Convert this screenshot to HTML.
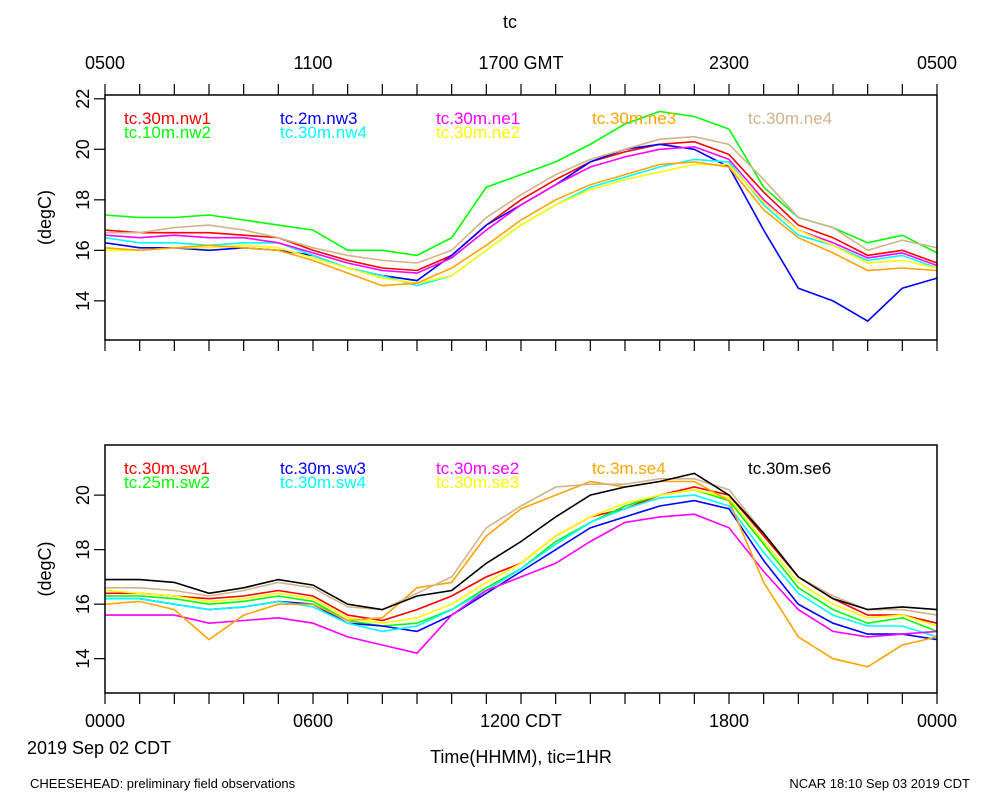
<!DOCTYPE html>
<html><head><meta charset="utf-8"><style>
body{margin:0;background:#fff}
svg text{font-family:"Liberation Sans",sans-serif}
</style></head><body>
<svg id="c" width="1000" height="800" viewBox="0 0 1000 800" xmlns="http://www.w3.org/2000/svg">
<rect width="1000" height="800" fill="#fff"/>
<g id="g"></g>
</svg>
<script>
const hours=[0,1,2,3,4,5,6,7,8,9,10,11,12,13,14,15,16,17,18,19,20,21,22,23,24];
const topNames=["tc.30m.nw1","tc.10m.nw2","tc.2m.nw3","tc.30m.nw4","tc.30m.ne1","tc.30m.ne2","tc.30m.ne3","tc.30m.ne4"];
const topColors=["#ff0000","#00ff00","#0000ff","#00ffff","#ff00ff","#ffff00","#ffa500","#d2b48c"];
const nw1=[16.8,16.7,16.7,16.7,16.6,16.5,16.0,15.6,15.3,15.2,15.8,17.0,18.0,18.8,19.5,19.9,20.2,20.3,19.8,18.3,17.0,16.5,15.8,16.0,15.5];
const nw2=[17.4,17.3,17.3,17.4,17.2,17.0,16.8,16.0,16.0,15.8,16.5,18.5,19.0,19.5,20.2,21.0,21.5,21.3,20.8,18.5,17.3,16.9,16.3,16.6,15.9];
const nw3=[16.3,16.1,16.1,16.0,16.1,16.0,15.8,15.3,15.0,14.8,15.8,17.0,17.8,18.6,19.5,20.0,20.2,20.0,19.3,16.8,14.5,14.0,13.2,14.5,14.9];
const nw4=[16.5,16.3,16.3,16.2,16.3,16.3,15.8,15.3,15.0,14.6,15.0,16.0,17.0,17.8,18.5,18.9,19.3,19.6,19.5,17.8,16.6,16.2,15.6,15.8,15.3];
const ne1=[16.6,16.5,16.6,16.5,16.5,16.3,15.9,15.5,15.2,15.1,15.7,16.8,17.8,18.6,19.3,19.7,20.0,20.1,19.6,18.0,16.8,16.3,15.7,15.9,15.4];
const ne2=[16.0,16.0,16.1,16.1,16.2,16.1,15.7,15.3,14.9,14.7,15.0,16.0,17.0,17.8,18.4,18.8,19.1,19.4,19.4,17.9,16.8,16.2,15.5,15.6,15.3];
const ne3=[16.1,16.0,16.1,16.2,16.1,16.0,15.6,15.1,14.6,14.7,15.3,16.2,17.2,18.0,18.6,19.0,19.4,19.5,19.3,17.6,16.5,15.9,15.2,15.3,15.2];
const ne4=[16.7,16.7,16.9,17.0,16.8,16.5,16.1,15.8,15.6,15.5,16.0,17.3,18.2,19.0,19.6,20.0,20.4,20.5,20.2,18.8,17.3,16.9,16.0,16.4,16.1];
const botNames=["tc.30m.sw1","tc.25m.sw2","tc.30m.sw3","tc.30m.sw4","tc.30m.se2","tc.30m.se3","tc.3m.se4","tc.30m.se5","tc.30m.se6"];
const botColors=["#ff0000","#00ff00","#0000ff","#00ffff","#ff00ff","#ffff00","#ffa500","#d2b48c","#000000"];
const sw1=[16.4,16.4,16.3,16.2,16.3,16.5,16.3,15.6,15.4,15.8,16.3,17.0,17.5,18.5,19.2,19.5,20.0,20.3,20.0,18.5,17.0,16.2,15.6,15.6,15.3];
const sw2=[16.3,16.3,16.2,16.0,16.1,16.3,16.1,15.4,15.2,15.3,15.8,16.6,17.3,18.3,19.0,19.6,20.0,20.2,19.8,18.2,16.6,15.8,15.3,15.5,15.0];
const sw3=[16.2,16.2,16.0,15.8,15.9,16.1,16.0,15.3,15.2,15.0,15.6,16.4,17.2,18.0,18.8,19.2,19.6,19.8,19.5,17.6,16.0,15.3,14.9,14.9,14.7];
const sw4=[16.2,16.2,16.0,15.8,15.9,16.1,15.9,15.3,15.0,15.2,15.8,16.5,17.3,18.2,19.0,19.5,19.9,20.0,19.6,17.9,16.4,15.6,15.2,15.2,14.8];
const se2=[15.6,15.6,15.6,15.3,15.4,15.5,15.3,14.8,14.5,14.2,15.6,16.5,17.0,17.5,18.3,19.0,19.2,19.3,18.8,17.2,15.8,15.0,14.8,14.9,15.0];
const se3=[16.5,16.4,16.3,16.1,16.2,16.4,16.2,15.5,15.3,15.5,16.0,16.8,17.5,18.5,19.2,19.7,20.0,20.2,19.9,18.3,16.8,16.0,15.5,15.6,15.2];
const se4=[16.0,16.1,15.8,14.7,15.6,16.0,16.0,15.4,15.5,16.6,16.8,18.5,19.5,20.0,20.5,20.3,20.5,20.5,19.8,16.8,14.8,14.0,13.7,14.5,14.8];
const se5=[16.6,16.6,16.5,16.3,16.5,16.8,16.6,15.9,15.8,16.4,17.0,18.8,19.6,20.3,20.4,20.4,20.6,20.6,20.2,18.6,17.0,16.3,15.8,15.8,15.6];
const se6=[16.9,16.9,16.8,16.4,16.6,16.9,16.7,16.0,15.8,16.3,16.5,17.5,18.3,19.2,20.0,20.3,20.5,20.8,20.0,18.6,17.0,16.2,15.8,15.9,15.8];
const topSeries=[nw1,nw2,nw3,nw4,ne1,ne2,ne3,ne4];
const botSeries=[sw1,sw2,sw3,sw4,se2,se3,se4,se5,se6];
const yTicks=[14,16,18,20,22];
const topAxisLabels=["0500","1100","1700 GMT","2300","0500"];
const botAxisLabels=["0000","0600","1200 CDT","1800","0000"];

const NS="http://www.w3.org/2000/svg";
const G=document.getElementById('g');
const X0=105,X1=937;
function xs(h){return X0+(X1-X0)*h/24;}
function mk(tag,attrs,parent){const e=document.createElementNS(NS,tag);for(const k in attrs)e.setAttribute(k,attrs[k]);(parent||G).appendChild(e);return e;}
function txt(s,x,y,size,color,anchor,parent){const t=mk('text',{x:x,y:y,'font-size':size,fill:color||'#000','text-anchor':anchor||'start'},parent);t.textContent=s;return t;}

function panel(name,top,bot,vTop,vBot,series,names,colors,legendCount,topAxis){
  const pg=mk('g',{});
  
  
  const ys=v=>top+(vTop-v)/(vTop-vBot)*(bot-top);
  series.forEach((s,i)=>{
    const d=s.map((v,j)=>(j?'L':'M')+xs(hours[j]).toFixed(1)+' '+ys(v).toFixed(1)).join(' ');
    const p=mk('path',{d:d,fill:'none',stroke:colors[i],'stroke-width':1.6},pg);
    
    
  });
  const fr=mk('rect',{x:X0,y:top,width:X1-X0,height:bot-top,fill:'none',stroke:'#000','stroke-width':1.5},pg);
  
  
  for(let h=0;h<=24;h++){
    mk('line',{x1:xs(h),x2:xs(h),y1:bot,y2:bot+11,stroke:'#000','stroke-width':1.2},pg);
    if(topAxis) mk('line',{x1:xs(h),x2:xs(h),y1:top,y2:top-11,stroke:'#000','stroke-width':1.2},pg);
  }
  yTicks.forEach(v=>{
    const y=ys(v); if(y<top-1||y>bot+1) return;
    mk('line',{x1:X0-11,x2:X0,y1:y,y2:y,stroke:'#000','stroke-width':1.2},pg);
    const t=txt(String(v),0,0,18,'#000','middle',pg);
    t.setAttribute('transform','translate(89,'+y+') rotate(-90)');
    
    
  });
  const yl=txt('(degC)',0,0,18,'#000','middle',pg);
  yl.setAttribute('transform','translate(51,'+((top+bot)/2)+') rotate(-90)');
  
  
  for(let i=0;i<legendCount;i++){
    const col=Math.floor(i/2),row=i%2;
    const idx=(i===legendCount-1&&legendCount===9)?8:i;
    let cx=124+156*col, cy=top+29+row*14;
    if(legendCount===9&&i===8){cx=748;cy=top+29;}
    if(legendCount===8&&i===7){cx=748;cy=top+29;}
    if(legendCount===9&&i===7) continue;
    const t=txt(names[idx],cx,cy,17,colors[idx],'start',pg);
    
    
  }
}
panel('top-panel',95,340,22.15,12.45,topSeries,topNames,topColors,8,true);
panel('bottom-panel',445,693,21.84,12.74,botSeries,botNames,botColors,9,false);

const tl=txt('tc',510,28,18,'#000','middle');


topAxisLabels.forEach((s,i)=>{const t=txt(s,xs(i*6),69,18,'#000','middle');

});
botAxisLabels.forEach((s,i)=>{const t=txt(s,xs(i*6),727,18,'#000','middle');

});
const d1=txt('2019 Sep 02 CDT',27,754,18,'#000','start');


const xt=txt('Time(HHMM), tic=1HR',521,763,18,'#000','middle');


const f1=txt('CHEESEHEAD: preliminary field observations',30,788,13,'#000','start');


const f2=txt('NCAR 18:10 Sep 03 2019 CDT',970,788,13,'#000','end');


</script>
</body></html>
